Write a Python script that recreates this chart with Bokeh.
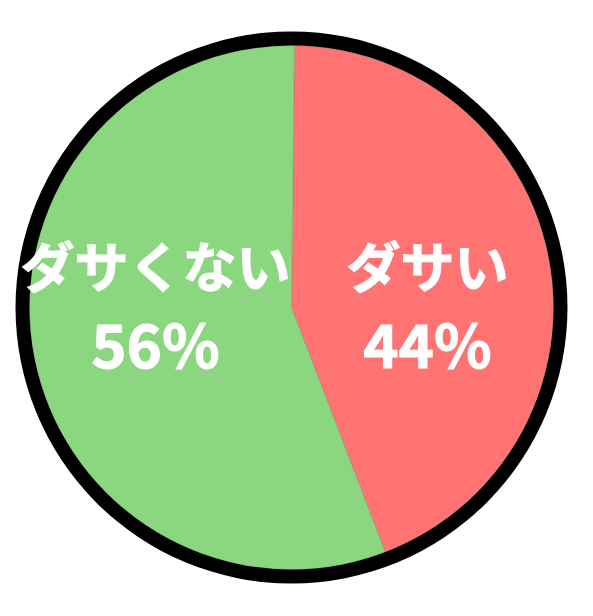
import numpy as np
from bokeh.plotting import figure
from bokeh.models import Range1d
from bokeh.core.properties import value
from bokeh.embed import file_html
from bokeh.resources import INLINE

# data
labels = ["ダサい", "ダサくない"]
percents = [44, 56]
colors = ["#ff7473", "#8bd77f"]

# layout
R = 262
start_offset = np.radians(0.65)   # first slice starts a hair right of 12 o'clock
label_x = [136, -136]
label_y = 43
pct_y = -34
FONT = value("Noto Sans CJK JP")

p = figure(width=577, height=600, output_backend="svg", toolbar_location=None,
           x_range=Range1d(-291, 286), y_range=Range1d(-293, 307),
           min_border=0)
p.axis.visible = False
p.grid.visible = False
p.outline_line_color = None
p.background_fill_color = "white"

frac = np.array(percents) / sum(percents)
ends = np.pi / 2 - start_offset - np.cumsum(frac) * 2 * np.pi
starts = np.concatenate([[np.pi / 2 - start_offset], ends[:-1]])

p.wedge(x=0, y=0, radius=R, start_angle=starts, end_angle=ends, direction="clock",
        fill_color=colors, line_color="#5f7f55", line_width=0.5, line_alpha=0.6)

p.annulus(x=0, y=0, inner_radius=R, outer_radius=R + 14, fill_color="black", line_color=None)

# outline in white to get the heavier look of the original lettering
p.text(x=label_x, y=[label_y] * 2, text=labels, text_align="center", text_baseline="middle",
       text_font=FONT, text_font_style="bold", text_font_size="54px", text_color="white",
       text_outline_color="white")
p.text(x=label_x, y=[pct_y] * 2, text=[f"{v}%" for v in percents], text_align="center",
       text_baseline="middle", text_font=FONT, text_font_style="bold",
       text_font_size="60px", text_color="white", text_outline_color="white")

open("out.html", "w").write(file_html(p, INLINE))
